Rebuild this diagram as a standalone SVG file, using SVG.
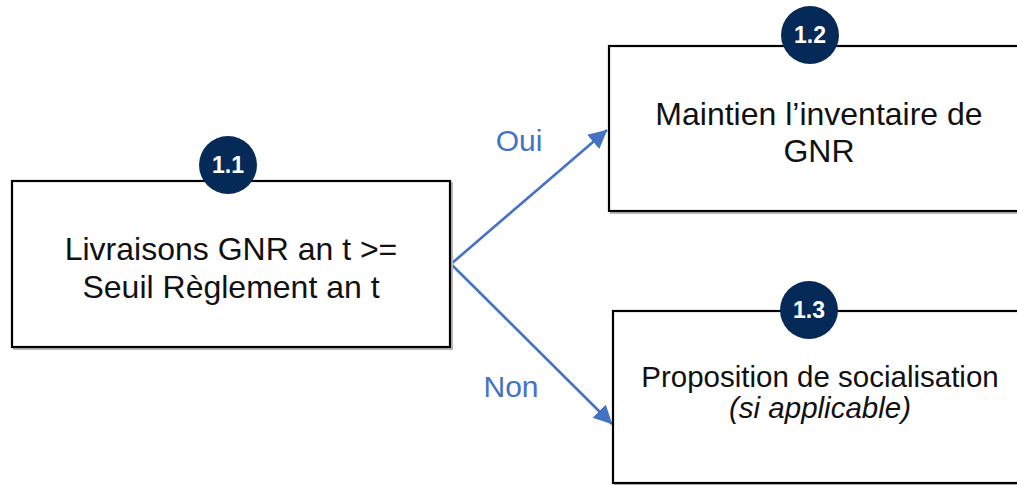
<svg xmlns="http://www.w3.org/2000/svg" width="1017" height="485" viewBox="0 0 1017 485">
<style>
.box{fill:#fff;stroke:#000;stroke-width:2.2}
.shadow{fill:none;stroke:#b8b8b8;stroke-width:2}
.t{font-family:"Liberation Sans",Arial,sans-serif;fill:#111;text-anchor:middle}
.badge{fill:#062A57}
.bt{font-family:"Liberation Sans",Arial,sans-serif;font-weight:bold;fill:#fff;text-anchor:middle;font-size:23px}
.lbl{font-family:"Liberation Sans",Arial,sans-serif;fill:#4472C4;font-size:30px;text-anchor:middle}
.conn{stroke:#4472C4;stroke-width:2.6;fill:none}
</style>
<defs>
<marker id="ah" markerWidth="9" markerHeight="9" refX="7" refY="3.6" orient="auto" markerUnits="strokeWidth">
<path d="M0,0 L7.2,3.6 L0,7.2 Z" fill="#4472C4"/>
</marker>
</defs>
<rect width="1017" height="485" fill="#fff"/>
<g id="connectors">
<line class="conn" x1="451" y1="264" x2="607" y2="130" marker-end="url(#ah)"/>
<line class="conn" x1="451" y1="264" x2="612" y2="424" marker-end="url(#ah)"/>
<text class="lbl" x="519" y="151">Oui</text>
<text class="lbl" x="511" y="397">Non</text>
</g>
<g id="node-1-1">
<rect class="shadow" x="14" y="183" width="438" height="166"/>
<rect class="box" x="12" y="181" width="438" height="166"/>
<circle class="badge" cx="228" cy="165" r="29"/>
<text class="bt" x="228" y="173">1.1</text>
<text class="t" font-size="32" x="231" y="260">Livraisons GNR an t &gt;=</text>
<text class="t" font-size="32" x="231" y="298">Seuil Règlement an t</text>
</g>
<g id="node-1-2">
<rect class="shadow" x="611" y="48" width="410" height="165"/>
<rect class="box" x="609" y="46" width="410" height="165"/>
<circle class="badge" cx="810" cy="35" r="29"/>
<text class="bt" x="810" y="43">1.2</text>
<text class="t" font-size="32" x="819" y="125">Maintien l’inventaire de</text>
<text class="t" font-size="32" x="819" y="162">GNR</text>
</g>
<g id="node-1-3">
<rect class="shadow" x="615" y="313" width="410" height="172"/>
<rect class="box" x="613" y="311" width="410" height="172"/>
<circle class="badge" cx="809" cy="310" r="29"/>
<text class="bt" x="809" y="318">1.3</text>
<text class="t" font-size="29.5" x="820" y="387">Proposition de socialisation</text>
<text class="t" font-size="29.5" font-style="italic" x="820" y="418">(si applicable)</text>
</g>
</svg>
